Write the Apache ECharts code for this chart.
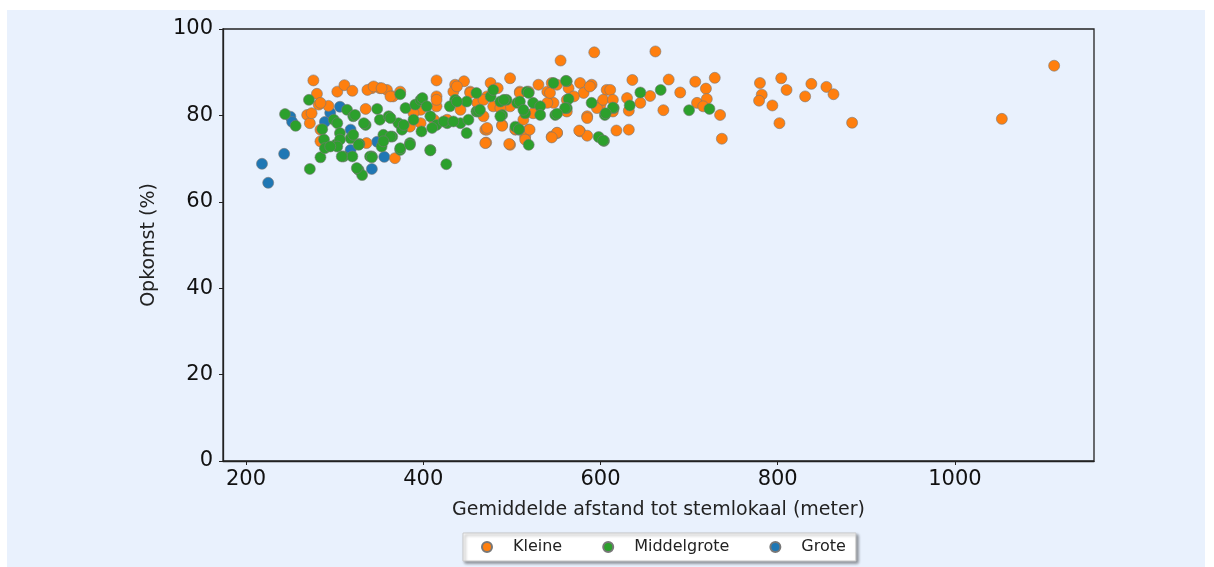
<!DOCTYPE html>
<html>
<head>
<meta charset="utf-8">
<script src="https://cdn.jsdelivr.net/npm/echarts@6/dist/echarts.min.js"></script>
<style>
  html, body { margin: 0; padding: 0; background: #ffffff; }
  #bg { position: absolute; left: 7px; top: 10px; width: 1198px; height: 557px; background: #e9f1fd; }
  #main { position: absolute; left: 0; top: 0; width: 1214px; height: 567px; }
</style>
</head>
<body>
<div id="bg"></div>
<div id="main"></div>
<script>
// afstand (meter), opkomst (%)
var kleine = [
  [276,88.1],[280,85.0],[282,82.5],[293,82.2],[269,80.1],[272,78.2],[284,76.7],[303,85.5],[311,87.0],[320,85.7],
  [335,81.5],[336,73.6],[342,86.3],[351,86.3],[359,85.9],[366,84.4],[374,85.5],[368,70.1],[415,88.1],[415,84.4],
  [415,82.1],[412,79.0],[397,81.3],[389,80.5],[436,87.1],[446,87.9],[434,85.5],[453,85.5],[470,76.7],[471,73.7],
  [472,84.4],[476,87.5],[484,86.3],[498,88.6],[489,77.8],[498,73.2],[504,76.7],[509,85.5],[519,85.5],[519,76.7],
  [515,75.1],[530,87.1],[545,75.1],[551,75.9],[555,92.7],[593,94.6],[577,87.5],[581,85.2],[590,87.1],[577,76.3],
  [585,79.8],[585,75.3],[547,82.9],[562,80.9],[600,82.5],[498,82.1],[479,82.1],[461,82.9],[442,81.3],[427,79.0],
  [540,85.5],[564,86.3],[545,87.5],[524,80.5],[562,83.6],[284,82.9],[274,80.5],[337,85.9],[284,74.0],[344,86.7],
  [353,86.3],[363,84.4],[415,83.6],[438,86.7],[453,85.2],[468,83.6],[470,73.6],[472,76.7],[397,78.2],[385,77.4],
  [509,85.2],[551,87.1],[588,86.7],[607,85.9],[468,79.8],[472,77.1],[489,77.6],[497,73.4],[504,76.8],[520,76.7],
  [515,74.4],[551,76.0],[545,74.9],[576,76.5],[585,79.4],[596,81.7],[540,82.9],[513,79.0],[487,81.7],[543,85.2],
  [570,84.4],[662,94.8],[1112,91.5],[1053,79.2],[884,78.3],[636,88.2],[677,88.3],[707,87.8],[729,88.7],[719,86.2],
  [690,85.3],[656,84.5],[645,82.9],[611,85.9],[630,84.0],[632,81.1],[671,81.2],[709,82.9],[720,83.8],[716,82.1],
  [735,80.1],[737,74.6],[618,76.5],[632,76.7],[780,87.5],[804,88.6],[810,85.9],[782,84.8],[779,83.4],[794,82.3],
  [802,78.2],[838,87.3],[831,84.4],[855,86.6],[863,84.9],[603,83.6],[614,83.6],[614,80.9]
];
var middelgrote = [
  [244,80.3],[256,77.6],[271,83.6],[272,67.6],[284,70.3],[286,76.8],[288,74.4],[289,72.4],[299,79.0],[303,78.2],
  [301,73.2],[310,70.5],[306,75.9],[314,81.3],[318,74.7],[320,70.5],[321,79.8],[327,67.4],[331,66.2],[328,73.4],
  [335,77.8],[342,70.5],[348,81.5],[351,79.0],[353,72.8],[355,75.5],[365,75.1],[361,79.8],[372,78.2],[374,84.9],
  [376,76.7],[374,72.0],[380,81.7],[385,73.6],[391,82.5],[397,83.6],[398,76.3],[408,72.0],[426,68.7],[408,79.8],
  [415,77.8],[427,78.2],[436,83.6],[430,82.1],[442,78.2],[449,75.9],[449,83.2],[460,85.2],[460,80.9],[476,84.4],
  [487,83.2],[489,80.1],[504,77.4],[508,76.7],[506,82.9],[519,73.2],[515,80.5],[517,85.5],[524,82.9],[532,82.1],
  [532,80.1],[547,87.5],[562,87.9],[564,83.8],[562,81.7],[549,80.1],[590,82.9],[598,75.0],[605,80.1],[615,81.7],
  [479,85.9],[494,83.6],[323,80.1],[333,78.2],[321,75.5],[306,74.4],[303,72.8],[308,70.5],[327,73.2],[295,72.8],
  [325,67.8],[340,70.5],[363,79.4],[378,77.8],[389,79.0],[399,84.0],[404,82.1],[410,77.1],[423,78.6],[434,78.6],
  [451,79.0],[438,83.2],[462,80.9],[408,71.9],[342,70.3],[363,75.1],[374,72.4],[385,73.2],[355,74.0],[491,83.6],
  [487,79.8],[509,83.2],[519,85.2],[513,81.3],[561,88.0],[560,81.7],[551,80.4],[604,74.1],[508,76.8],[464,81.3],
  [645,85.3],[668,85.9],[633,82.3],[614,81.8],[606,80.5],[700,81.2],[723,81.5],[603,74.2]
];
var grote = [
  [218,68.8],[225,64.4],[243,71.1],[250,79.7],[252,78.5],[289,78.5],[295,80.6],[306,82.0],[318,76.7],[318,72.0],
  [348,73.9],[356,70.4],[342,67.6]
];
var xTicks = [200, 400, 600, 800, 1000];
var yTicks = [0, 20, 40, 60, 80, 100];

var myChart = echarts.init(document.getElementById('main'));

var pointStyle = function (color) {
    return { color: color, borderColor: '#777', borderWidth: 0.6, opacity: 1 };
};

var option = {
    textStyle: { fontFamily: 'DejaVu Sans' },
    animation: false,
    grid: {
        left: 223, top: 29, width: 871, height: 432,
        show: true, borderColor: '#222', borderWidth: 1.3, backgroundColor: 'transparent'
    },
    legend: {
        data: ['Kleine', 'Middelgrote', 'Grote'],
        left: 463,
        top: 533,
        icon: 'circle',
        itemWidth: 10,
        itemHeight: 10,
        itemGap: 40,
        padding: [6, 10, 6, 18],
        backgroundColor: '#ffffff',
        borderColor: '#c8c8c8',
        borderWidth: 1,
        shadowColor: 'rgba(0,0,0,0.4)',
        shadowBlur: 3,
        shadowOffsetX: 2,
        shadowOffsetY: 2,
        textStyle: { fontSize: 16, color: '#222', padding: [0, 0, 0, 16], fontFamily: 'DejaVu Sans' }
    },
    xAxis: {
        type: 'value',
        min: 174,
        max: 1157,
        name: 'Gemiddelde afstand tot stemlokaal (meter)',
        nameLocation: 'middle',
        nameGap: 40,
        nameTextStyle: { fontSize: 19, color: '#222' },
        axisLine: { show: true, lineStyle: { color: '#222', width: 1.3 } },
        axisTick: { show: true, length: 4, inside: false, customValues: xTicks, lineStyle: { color: '#222' } },
        axisLabel: {
            fontSize: 21, color: '#111', margin: 8, customValues: xTicks,
            formatter: function (v) { return String(v); }
        },
        splitLine: { show: false }
    },
    yAxis: {
        type: 'value',
        min: 0,
        max: 100,
        interval: 20,
        name: 'Opkomst (%)',
        nameLocation: 'middle',
        nameGap: 64,
        nameTextStyle: { fontSize: 19, color: '#222' },
        axisLine: { show: true, lineStyle: { color: '#222', width: 1.3 } },
        axisTick: { show: true, length: 4, lineStyle: { color: '#222' } },
        axisLabel: { fontSize: 21, color: '#111', margin: 10, customValues: yTicks },
        splitLine: { show: false }
    },
    series: [
        { name: 'Grote', type: 'scatter', symbolSize: 11, data: grote, itemStyle: pointStyle('#1f77b4') },
        { name: 'Kleine', type: 'scatter', symbolSize: 11, data: kleine, itemStyle: pointStyle('#ff7f0e') },
        { name: 'Middelgrote', type: 'scatter', symbolSize: 11, data: middelgrote, itemStyle: pointStyle('#2ca02c') }
    ]
};

myChart.setOption(option);
window.onresize = function () {
    myChart.resize();
};
</script>
</body>
</html>
